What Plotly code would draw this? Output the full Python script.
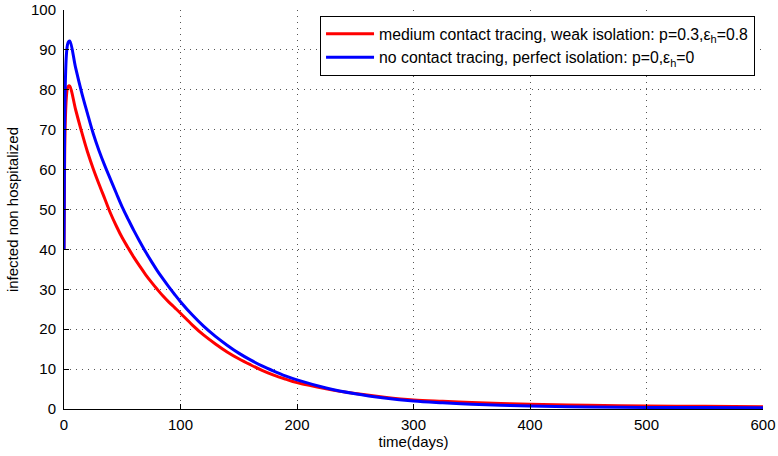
import plotly.graph_objects as go

# Time (days) and values
t_red = [0, 0.5, 1, 2, 3, 4, 5, 10, 15, 20, 25, 30, 35, 40, 45, 50, 55, 60, 65, 70, 75, 80, 85, 90, 95,
         100, 110, 120, 130, 140, 150, 160, 170, 180, 190, 200, 225, 250, 275, 300, 325, 350, 375, 400,
         450, 500, 550, 600]
red_vals = [40, 61, 71, 78, 80.5, 81.0, 80.9, 75.0, 69.6, 64.6, 60.3, 56.4, 52.7, 49.0, 45.8, 42.9, 40.4,
            38.0, 35.8, 33.7, 31.8, 30.0, 28.3, 26.8, 25.4,
            24.0, 21.1, 18.5, 16.3, 14.3, 12.6, 11.1, 9.7, 8.5, 7.5, 6.6, 5.05, 3.86, 2.95, 2.26, 1.92,
            1.63, 1.38, 1.17, 0.94, 0.75, 0.66, 0.58]

t_blue = [0, 0.5, 1, 2, 3, 4, 5, 10, 15, 20, 25, 30, 35, 40, 45, 50, 55, 60, 65, 70, 75, 80, 85, 90, 95,
          100, 110, 120, 130, 140, 150, 160, 170, 180, 190, 200, 225, 250, 275, 300, 325, 350, 375, 400,
          450, 500, 550, 600]
blue_vals = [40, 69, 80, 88.5, 91.3, 92.1, 92.2, 85.5, 79.5, 74.2, 69.1, 64.8, 61.0, 57.5, 54.0, 50.6, 47.6,
             44.7, 42.0, 39.4, 37.0, 34.7, 32.6, 30.6, 28.7,
             26.9, 23.6, 20.7, 18.2, 16.0, 14.0, 12.3, 10.8, 9.5, 8.3, 7.3, 5.28, 3.82, 2.76, 2.0, 1.57,
             1.22, 0.96, 0.75, 0.53, 0.4, 0.36, 0.33]

red_name = "medium contact tracing, weak isolation: p=0.3,ε<sub>h</sub>=0.8"
blue_name = "no contact tracing, perfect isolation: p=0,ε<sub>h</sub>=0"

x_ticks = [0, 100, 200, 300, 400, 500, 600]
y_ticks = [0, 10, 20, 30, 40, 50, 60, 70, 80, 90, 100]

fig = go.Figure()
fig.add_trace(go.Scatter(x=t_red, y=red_vals, mode="lines", name=red_name,
                         line=dict(color="#ff0000", width=3, shape="spline", smoothing=1.0)))
fig.add_trace(go.Scatter(x=t_blue, y=blue_vals, mode="lines", name=blue_name,
                         line=dict(color="#0000ff", width=3, shape="spline", smoothing=1.0)))

font_family = "Liberation Sans, Arial, Helvetica, sans-serif"
axis_common = dict(
    showgrid=True, gridcolor="#555555", griddash="1px,5px", gridwidth=1,
    showline=True, linecolor="black", linewidth=1,
    ticks="inside", ticklen=5, tickcolor="black",
    zeroline=False, mirror=False, automargin=False,
    ticklabeloverflow="allow",
    tickfont=dict(size=15, color="black", family=font_family),
)

fig.update_layout(
    width=778, height=456,
    margin=dict(l=64, r=15, t=10, b=47),
    paper_bgcolor="white", plot_bgcolor="white",
    font=dict(family=font_family, size=15, color="black"),
    showlegend=True,
    legend=dict(x=0.9886, y=0.985, xanchor="right", yanchor="top",
                bgcolor="white", bordercolor="black", borderwidth=1,
                font=dict(size=15.8, color="black", family=font_family),
                itemwidth=48, tracegroupgap=6),
    xaxis=dict(range=[0, 600], tickvals=x_ticks, ticklabelstandoff=2,
               title=dict(text="time(days)", standoff=2, font=dict(size=15)),
               **axis_common),
    yaxis=dict(range=[0, 100], tickvals=y_ticks, ticklabelstandoff=4,
               title=dict(text="infected non hospitalized", standoff=8, font=dict(size=15)),
               **axis_common),
)

fig.write_html(
    "out.html",
    config={"displayModeBar": False},
    post_script="document.body.style.margin='0';document.body.style.overflow='hidden';",
)
